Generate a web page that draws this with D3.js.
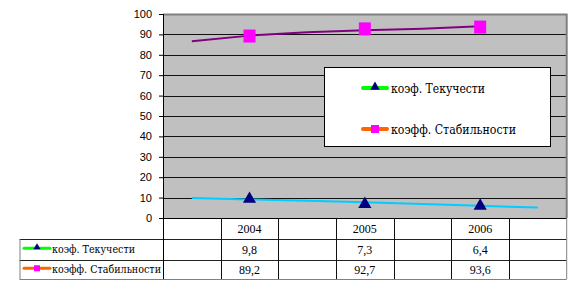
<!DOCTYPE html>
<html><head><meta charset="utf-8">
<script src="https://cdn.jsdelivr.net/npm/d3@7"></script>
<style>body{margin:0;background:#fff}svg{display:block}</style>
</head><body>
<svg id="c" width="574" height="290"></svg>
<script>
const categories = ["", "2004", "", "2005", "", "2006", ""];
const years = ["2004", "2005", "2006"];
const seriesNames = ["коэф. Текучести", "коэфф. Стабильности"];
const koefTek = [9.8, 7.3, 6.4];
const koefStab = [89.2, 92.7, 93.6];
const trendTek = [9.8, 9.1, 8.4, 7.7, 6.9, 6.0, 5.1];
const trendStab = [86.6, 89.4, 91.0, 92.0, 92.8, 94.0];
const yTicks = [0, 10, 20, 30, 40, 50, 60, 70, 80, 90, 100];
const fmt = v => String(v).replace(".", ",");

const svg = d3.select("#c");
const L = 163, R = 566.7, T = 14, B = 218;
const tableLeft = 19.5, rowY = [218, 239, 259.5, 279];

const x = d3.scaleBand().domain(d3.range(categories.length)).range([L, R]).padding(0);
const y = d3.scaleLinear().domain([0, 100]).range([B, T]);
const cx = i => x(i) + x.bandwidth() / 2;

svg.append("rect").attr("x", L).attr("y", T).attr("width", R - L).attr("height", B - T).attr("fill", "#c0c0c0");
svg.append("g").selectAll("line").data(yTicks.filter(t => t > 0 && t < 100)).join("line")
  .attr("x1", L).attr("x2", R).attr("y1", d => Math.round(y(d)) + 0.5).attr("y2", d => Math.round(y(d)) + 0.5)
  .attr("stroke", "#111").attr("stroke-width", 1);
svg.append("path").attr("d", `M${L},${T + 0.5}H${R}V${B}`).attr("fill", "none").attr("stroke", "#808080").attr("stroke-width", 2);

const yAxis = d3.axisLeft(y).tickValues(yTicks).tickSize(4).tickPadding(7);
const ga = svg.append("g").attr("transform", `translate(${L},0)`).call(yAxis);
ga.select(".domain").remove();
ga.selectAll("line").attr("stroke", "#000");
ga.selectAll("text").attr("font-family", "Arial, 'Liberation Sans', sans-serif").attr("font-size", 11).attr("fill", "#000");

const tg = svg.append("g");
tg.append("line").attr("x1", L).attr("x2", R).attr("y1", B + 0.5).attr("y2", B + 0.5).attr("stroke", "#000");
[rowY[1], rowY[2]].forEach(yy => tg.append("line").attr("x1", tableLeft).attr("x2", R).attr("y1", Math.round(yy) + 0.5).attr("y2", Math.round(yy) + 0.5).attr("stroke", "#222"));
tg.append("line").attr("x1", tableLeft).attr("x2", R).attr("y1", rowY[3] + 0.5).attr("y2", rowY[3] + 0.5).attr("stroke", "#808080");
tg.append("line").attr("x1", tableLeft + 0.5).attr("x2", tableLeft + 0.5).attr("y1", rowY[1]).attr("y2", rowY[3]).attr("stroke", "#808080");
tg.append("line").attr("x1", L + 0.5).attr("x2", L + 0.5).attr("y1", T).attr("y2", rowY[3]).attr("stroke", "#000");
d3.range(1, categories.length).forEach(i => {
  const xx = Math.round(x(i)) + 0.5;
  tg.append("line").attr("x1", xx).attr("x2", xx).attr("y1", B).attr("y2", rowY[3]).attr("stroke", "#111");
});
tg.append("line").attr("x1", R).attr("x2", R).attr("y1", B).attr("y2", rowY[3]).attr("stroke", "#808080");

const serif = "'Liberation Serif', serif";
const cyrSerif = "'DejaVu Serif', serif";
tg.selectAll("text.cat").data(categories).join("text").attr("class", "cat")
  .attr("x", (d, i) => cx(i)).attr("y", (rowY[0] + rowY[1]) / 2 + 4.5)
  .attr("text-anchor", "middle").style("font-family", serif).attr("font-size", 12).attr("fill", "#000").text(d => d);

const rowsData = [
  {name: seriesNames[0], vals: koefTek, line: "#00ff00", marker: "tri"},
  {name: seriesNames[1], vals: koefStab, line: "#ff6600", marker: "sq"}
];
function drawKey(g, x0, x1, yy, r, w) {
  g.append("line").attr("x1", x0).attr("x2", x1).attr("y1", yy).attr("y2", yy)
    .attr("stroke", r.line).attr("stroke-width", w).attr("stroke-linecap", "round");
  const mx = (x0 + x1) / 2;
  if (r.marker === "tri") {
    g.append("path").attr("d", d3.symbol(d3.symbolTriangle, w > 3 ? 38 : 22)()).attr("transform", `translate(${mx},${yy - 1})`).attr("fill", "#000080");
  } else {
    const s = w > 3 ? 8 : 6;
    g.append("rect").attr("x", mx - s / 2).attr("y", yy - s / 2).attr("width", s).attr("height", s).attr("fill", "#ff00ff");
  }
}
rowsData.forEach((r, k) => {
  const yc = (rowY[k + 1] + rowY[k + 2]) / 2;
  drawKey(tg, 24, 50, yc - 1, r, 3);
  tg.append("text").attr("x", 52).attr("y", yc + 4).style("font-family", cyrSerif).attr("font-size", 11.5).attr("fill", "#000")
    .attr("textLength", k === 0 ? 83 : 109).attr("lengthAdjust", "spacingAndGlyphs").text(r.name);
  years.forEach((yr, j) => {
    tg.append("text").attr("x", cx(categories.indexOf(yr))).attr("y", yc + 4.5).attr("text-anchor", "middle")
      .style("font-family", serif).attr("font-size", 12).attr("fill", "#000").text(fmt(r.vals[j]));
  });
});

const line = d3.line().x((d, i) => cx(i)).y(d => y(d));
svg.append("path").datum(trendStab).attr("d", line).attr("fill", "none").attr("stroke", "#800080").attr("stroke-width", 2);
svg.append("path").datum(trendTek).attr("d", line).attr("fill", "none").attr("stroke", "#00ccff").attr("stroke-width", 2);

svg.append("g").selectAll("path").data(koefTek).join("path")
  .attr("d", d3.symbol(d3.symbolTriangle, 75)())
  .attr("transform", (d, j) => `translate(${cx(categories.indexOf(years[j]))},${y(d) + 1})`)
  .attr("fill", "#000080");
svg.append("g").selectAll("rect").data(koefStab).join("rect")
  .attr("x", (d, j) => cx(categories.indexOf(years[j])) - 6).attr("y", d => y(d) - 6.5)
  .attr("width", 12).attr("height", 13).attr("fill", "#ff00ff");

const lg = svg.append("g");
lg.append("rect").attr("x", 324.5).attr("y", 67.5).attr("width", 226).attr("height", 79).attr("fill", "#fff").attr("stroke", "#000");
[88, 129].forEach((yy, k) => {
  drawKey(lg, 363, 387, yy, rowsData[k], 4);
  lg.append("text").attr("x", 391).attr("y", yy + 4.5).style("font-family", cyrSerif).attr("font-size", 13).attr("fill", "#000")
    .attr("textLength", k === 0 ? 94 : 125).attr("lengthAdjust", "spacingAndGlyphs").text(rowsData[k].name);
});
</script>
</body></html>
